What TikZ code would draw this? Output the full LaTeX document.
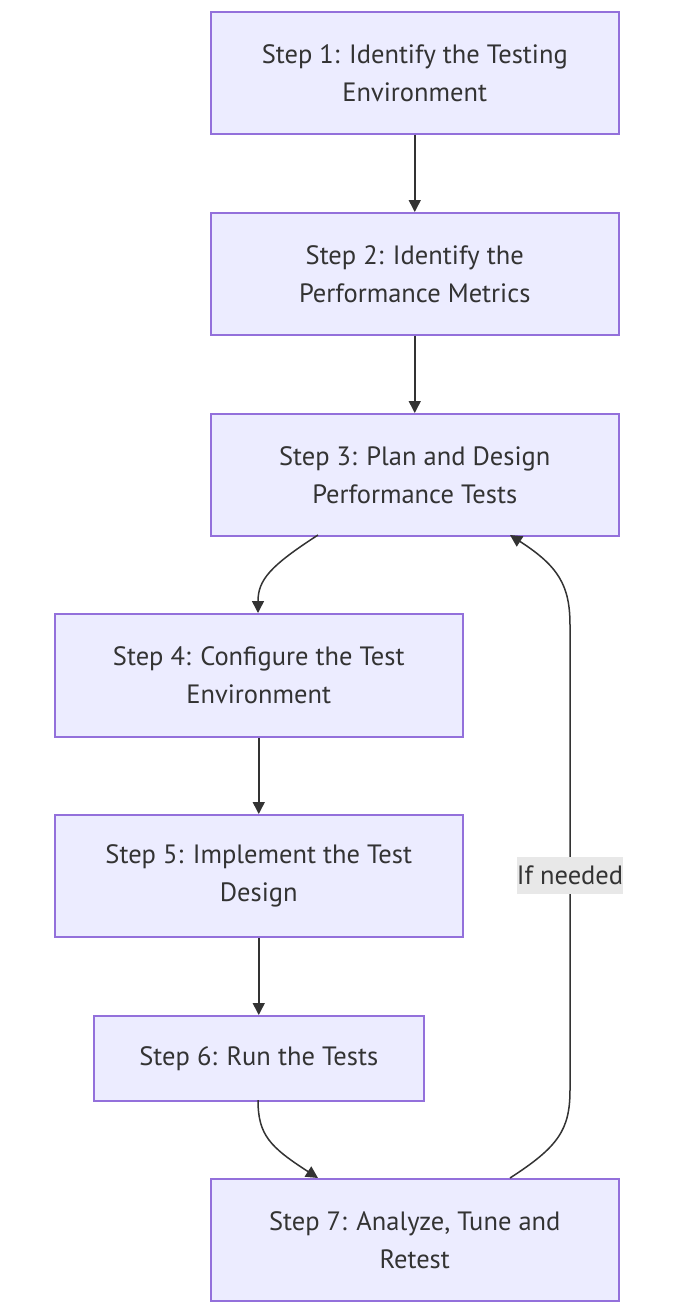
\documentclass[tikz,border=0pt]{standalone}
\usepackage{fontspec}
\setmainfont{PT Sans}
\usetikzlibrary{arrows.meta}
\definecolor{boxfill}{HTML}{ECECFF}
\definecolor{boxdraw}{HTML}{9370DB}
\definecolor{txt}{HTML}{333333}
\definecolor{lblbg}{HTML}{E8E8E8}
\tikzset{
  stepbox/.style={draw=boxdraw, fill=boxfill, line width=1.5pt, text=txt, align=center,
     font=\fontsize{26.5}{38}\selectfont, inner sep=0pt, anchor=north west},
  conn/.style={draw=txt, line width=1.5pt, -{Triangle[length=12pt,width=12pt]}},
  lbl/.style={fill=lblbg, text=txt, font=\fontsize{26.5}{28}\selectfont, inner sep=0pt,
     minimum width=106pt, minimum height=37pt}
}
\begin{document}
\begin{tikzpicture}[x=1pt,y=-1pt]
\useasboundingbox (0,0) rectangle (684,1315);
\node[stepbox, minimum width=408pt, minimum height=122pt] (s1) at (210,11) {Step 1: Identify the Testing\\Environment};
\node[stepbox, minimum width=408pt, minimum height=122pt] (s2) at (210,212) {Step 2: Identify the\\Performance Metrics};
\node[stepbox, minimum width=408pt, minimum height=122pt] (s3) at (210,413) {Step 3: Plan and Design\\Performance Tests};
\node[stepbox, minimum width=408pt, minimum height=123pt] (s4) at (54,613) {Step 4: Configure the Test\\Environment};
\node[stepbox, minimum width=408pt, minimum height=122pt] (s5) at (54,814) {Step 5: Implement the Test\\Design};
\node[stepbox, minimum width=330pt, minimum height=85pt] (s6) at (93,1015) {Step 6: Run the Tests};
\node[stepbox, minimum width=408pt, minimum height=122pt] (s7) at (210,1178) {Step 7: Analyze, Tune and\\Retest};

\coordinate (a3) at (318,535);
\coordinate (b4) at (258,613);
\coordinate (a6) at (258,1100);
\coordinate (b7) at (318,1178);
\coordinate (a7) at (510,1178);
\coordinate (b3) at (510,535);

\draw[conn] (s1.south) -- (s2.north);
\draw[conn] (s2.south) -- (s3.north);
\draw[conn] (a3) .. controls (270,566) and (258,580) .. (b4);
\draw[conn] (s4.south) -- (s5.north);
\draw[conn] (s5.south) -- (s6.north);
\draw[conn] (a6) .. controls (258,1135) and (270,1147) .. (b7);
\draw[conn] (a7) .. controls (558,1147) and (570,1130) .. (570,1090)
   -- (570,625) .. controls (570,585) and (558,566) .. (b3);
\node[lbl] (l) at (570,875) {If needed};
\end{tikzpicture}
\end{document}
